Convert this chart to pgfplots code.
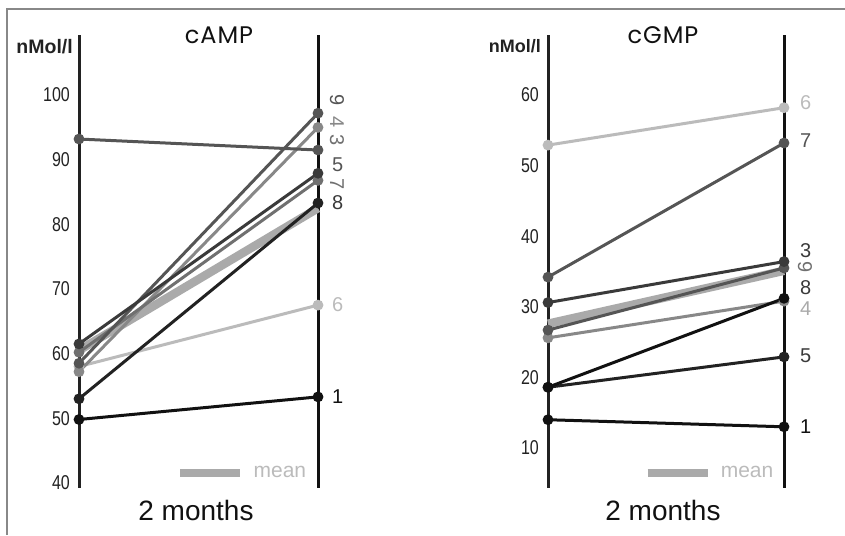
\documentclass[border=0pt]{standalone}
\usepackage{fontspec}
\setmainfont{Liberation Sans}
\newfontfamily\titlefont[LetterSpace=4]{Poppins}
\newfontfamily\narrowfont[FakeStretch=0.8]{Liberation Sans}
\def\ticksize{20}
\usepackage{pgfplots}
\pgfplotsset{compat=1.18}
\definecolor{k1}{HTML}{111111}
\definecolor{k2}{HTML}{222222}
\definecolor{k3}{HTML}{3A3A3A}
\definecolor{k5}{HTML}{555555}
\definecolor{k7}{HTML}{707070}
\definecolor{k8}{HTML}{888888}
\definecolor{kb}{HTML}{BBBBBB}
\definecolor{meanc}{HTML}{AAAAAA}
\definecolor{tickc}{HTML}{222222}
\definecolor{framec}{HTML}{888888}
\tikzset{lab/.style={anchor=west, inner sep=0pt, font=\fontsize{20}{20}\selectfont}}
\pgfplotsset{
  panel/.style={
    scale only axis, height=453pt, xmin=0, xmax=1,
    axis line style={draw=none}, xtick=\empty, major tick length=0pt,
    clip=false, /pgf/number format/assume math mode=true,
    yticklabel style={font=\narrowfont\fontsize{\ticksize}{\ticksize}\selectfont, text=tickc, inner sep=0pt, xshift=-9pt},
    legend style={draw=none, fill=none, anchor=west, inner sep=0pt,
      font=\fontsize{21}{21}\selectfont, text=kb},
    legend image code/.code={\draw[##1] (0pt,0pt) -- (60pt,0pt); \path (67pt,0pt);},
  },
  subj/.style={line width=3pt, mark=*, mark size=3.8pt},
  meanline/.style={line width=8.5pt, color=meanc, no marks},
}
\begin{document}
\begin{tikzpicture}
\draw[framec, line width=1.5pt] (7pt,0pt) -- (7pt,526pt) -- (845pt,526pt);
% ---------- cAMP ----------
\begin{axis}[panel, at={(79pt,47pt)}, anchor=south west, width=239pt,
  ymin=39.2, ymax=109.3, ytick={40,50,...,100},
  legend style={at={(rel axis cs:0.4056,0.033)}}]
\draw[line width=3pt, tickc] (rel axis cs:0,0) -- (rel axis cs:0,1);
\draw[line width=3pt, k1] (rel axis cs:1,0) -- (rel axis cs:1,1);
\addplot[meanline] coordinates {(0,60.5) (1,82.5)};
\addlegendentry{mean}
\addplot[subj, color=kb] coordinates {(0,58.0) (1,67.5)};
\addplot[subj, color=k8] coordinates {(0,57.2) (1,95.0)};
\addplot[subj, color=k7] coordinates {(0,60.2) (1,86.8)};
\addplot[subj, color=k5] coordinates {(0,58.5) (1,97.2)};
\addplot[subj, color=k5] coordinates {(0,93.2) (1,91.5)};
\addplot[subj, color=k3] coordinates {(0,61.5) (1,87.9)};
\addplot[subj, color=k2] coordinates {(0,53.0) (1,83.3)};
\addplot[subj, color=k1] coordinates {(0,49.8) (1,53.3)};
\node[lab, text=k5, xshift=19pt, rotate=-90, anchor=center] at (axis cs:1,99.2) {9};
\node[lab, text=k8, xshift=19pt, rotate=-90, anchor=center] at (axis cs:1,95.8) {4};
\node[lab, text=k7, xshift=19pt, rotate=-90, anchor=center] at (axis cs:1,93.0) {3};
\node[lab, text=k5, xshift=14pt] at (axis cs:1,89.3) {5};
\node[lab, text=k7, xshift=19pt, rotate=-90, anchor=center] at (axis cs:1,86.2) {7};
\node[lab, text=k3, xshift=14pt] at (axis cs:1,83.3) {8};
\node[lab, text=kb, xshift=14pt] at (axis cs:1,67.5) {6};
\node[lab, text=k1, xshift=14pt] at (axis cs:1,53.3) {1};
\end{axis}
% ---------- cGMP ----------
\begin{axis}[panel, at={(548pt,47pt)}, anchor=south west, width=236pt,
  ymin=4.33, ymax=68.5, ytick={10,20,...,60},
  legend style={at={(rel axis cs:0.403,0.033)}}]
\draw[line width=3pt, tickc] (rel axis cs:0,0) -- (rel axis cs:0,1);
\draw[line width=3pt, k1] (rel axis cs:1,0) -- (rel axis cs:1,1);
\addplot[meanline] coordinates {(0,27.6) (1,35.1)};
\addlegendentry{mean}
\addplot[subj, color=kb] coordinates {(0,52.9) (1,58.2)};
\addplot[subj, color=k8] coordinates {(0,25.6) (1,30.8)};
\addplot[subj, color=k5] coordinates {(0,26.7) (1,35.5)};
\addplot[subj, color=k3] coordinates {(0,30.6) (1,36.4)};
\addplot[subj, color=k5] coordinates {(0,34.2) (1,53.2)};
\addplot[subj, color=k2] coordinates {(0,18.6) (1,22.9)};
\addplot[subj, color=k1] coordinates {(0,18.6) (1,31.2)};
\addplot[subj, color=k1] coordinates {(0,14.0) (1,13.0)};
\node[lab, text=kb, xshift=16pt] at (axis cs:1,58.9) {6};
\node[lab, text=k5, xshift=16pt] at (axis cs:1,53.6) {7};
\node[lab, text=k3, xshift=16pt] at (axis cs:1,38.0) {3};
\node[lab, text=k7, xshift=21pt, rotate=-90, anchor=center] at (axis cs:1,35.6) {9};
\node[lab, text=k3, xshift=16pt] at (axis cs:1,32.7) {8};
\node[lab, text=meanc, xshift=16pt] at (axis cs:1,29.7) {4};
\node[lab, text=k3, xshift=16pt] at (axis cs:1,23.0) {5};
\node[lab, text=k1, xshift=16pt] at (axis cs:1,13.0) {1};
\end{axis}
% ---------- texts ----------
\node[anchor=base, inner sep=0pt, font=\titlefont\fontsize{24}{24}\selectfont, text=k1] at (219pt,491.7pt) {cAMP};
\node[anchor=base, inner sep=0pt, font=\titlefont\fontsize{24}{24}\selectfont, text=k1] at (663pt,491.7pt) {cGMP};
\node[anchor=base east, inner sep=0pt, font=\bfseries\fontsize{19.5}{19.5}\selectfont, text=tickc] at (73pt,481.7pt) {nMol/l};
\node[anchor=base east, inner sep=0pt, font=\bfseries\fontsize{18}{18}\selectfont, text=tickc] at (541pt,482pt) {nMol/l};
\node[anchor=base, inner sep=0pt, font=\fontsize{28}{28}\selectfont, text=k1] at (196pt,14.3pt) {2 months};
\node[anchor=base, inner sep=0pt, font=\fontsize{28}{28}\selectfont, text=k1] at (663pt,14.3pt) {2 months};
\pgfresetboundingbox
\path[use as bounding box] (0pt,0pt) rectangle (845pt,535pt);
\end{tikzpicture}
\end{document}
